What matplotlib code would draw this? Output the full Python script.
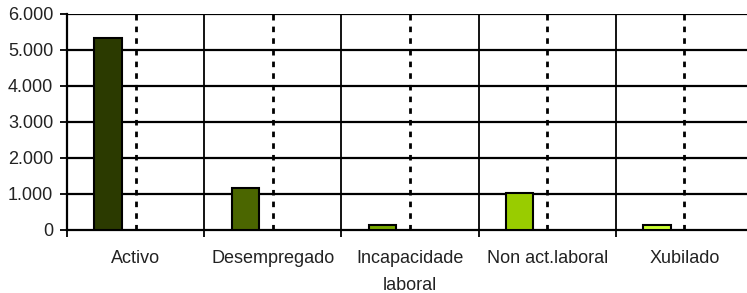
import matplotlib
matplotlib.use("Agg")
import matplotlib.pyplot as plt
from matplotlib.ticker import FuncFormatter

plt.rcParams['font.family'] = ['Liberation Sans', 'DejaVu Sans']

# Datos
categorias = ['Activo', 'Desempregado', 'Incapacidade\nlaboral', 'Non act.laboral', 'Xubilado']
valores = [5330, 1160, 140, 1020, 130]
cores = ['#2B3A00', '#4B6600', '#7AAA00', '#99CC00', '#CCFF33']

fig = plt.figure(figsize=(7.47, 2.93), dpi=100)
ax = fig.add_axes([67/747, 63/293, 686/747, 216/293])

n = len(categorias)
pos = [i + 0.3 for i in range(n)]
ax.bar(pos, valores, width=0.2, color=cores, edgecolor='black', linewidth=1.5, zorder=3)

# Reticula
for y in range(1000, 7000, 1000):
    ax.axhline(y, color='black', lw=1.6, zorder=1)
for i in range(1, n):
    ax.axvline(i, color='black', lw=1.3, zorder=1)
for i in range(n):
    ax.axvline(i + 0.5, color='black', lw=2, ls=(0, (2, 2.2)), zorder=2)

ax.set_xlim(0, n)
ax.set_ylim(0, 6000)
ax.set_yticks(range(0, 7000, 1000))
ax.yaxis.set_major_formatter(FuncFormatter(lambda v, p: f'{int(v):,}'.replace(',', '.')))

ax.set_xticks(range(n + 1))
ax.set_xticklabels([])
ax.set_xticks([i + 0.5 for i in range(n)], minor=True)
ax.set_xticklabels(categorias, minor=True, linespacing=1.75)
ax.tick_params(axis='x', which='minor', length=0, pad=14.5, labelsize=13, labelcolor='#222222')
ax.tick_params(axis='x', which='major', length=5, width=1.3, direction='out')
ax.tick_params(axis='y', length=5, width=1.3, pad=5, labelsize=13, labelcolor='#222222')

for s in ['top', 'right']:
    ax.spines[s].set_visible(False)
ax.spines['left'].set_linewidth(1.6)
ax.spines['bottom'].set_linewidth(1.6)

fig.savefig('out.png', dpi=100)
